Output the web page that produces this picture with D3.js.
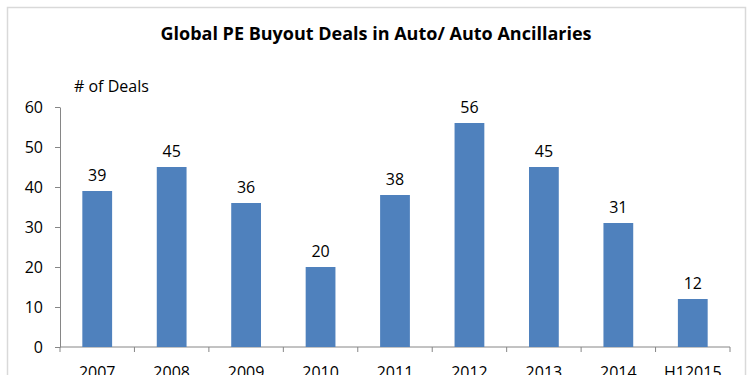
<!DOCTYPE html>
<html>
<head>
<meta charset="utf-8">
<script src="https://cdn.jsdelivr.net/npm/d3@7"></script>
<style>
  body { margin: 0; background: #fff; }
  text { font-family: "Open Sans", "Liberation Sans", sans-serif; fill: #000; }
</style>
</head>
<body>
<svg id="chart"></svg>
<script>
// data
const years = ['2007', '2008', '2009', '2010', '2011', '2012', '2013', '2014', 'H12015'];
const deals = [39, 45, 36, 20, 38, 56, 45, 31, 12];
const yTicks = [0, 10, 20, 30, 40, 50, 60];

function drawChart() {
    const width = 750;
    const height = 375;
    const left = 60, right = 730, top = 107, bottom = 347;

    const svg = d3.select('#chart')
        .attr('width', width)
        .attr('height', height);

    // chart frame
    svg.append('rect')
        .attr('x', 7.5).attr('y', 7.5)
        .attr('width', 738).attr('height', 400)
        .attr('fill', 'none')
        .attr('stroke', '#d9d9d9')
        .attr('stroke-width', 1.5);

    const x = d3.scaleBand()
        .domain(years)
        .range([left, right])
        .paddingInner(0.6)
        .paddingOuter(0.3);

    const y = d3.scaleLinear()
        .domain([0, 60])
        .range([bottom, top]);

    // y axis
    const yAxis = svg.append('g')
        .attr('transform', `translate(${left},0)`)
        .call(d3.axisLeft(y).tickValues(yTicks).tickSize(5).tickSizeOuter(0).tickPadding(12));
    yAxis.select('.domain').attr('stroke', '#868686');
    yAxis.selectAll('.tick line').attr('stroke', '#868686');
    yAxis.selectAll('.tick text')
        .style('font-size', '16px')
        .attr('fill', '#000');

    // x axis: ticks between categories
    const step = x.step();
    const xAxis = svg.append('g')
        .attr('transform', `translate(0,${bottom})`);
    xAxis.append('line')
        .attr('x1', left).attr('x2', right)
        .attr('stroke', '#868686');
    xAxis.selectAll('line.tk')
        .data(d3.range(years.length + 1))
        .enter().append('line')
        .attr('class', 'tk')
        .attr('x1', i => left + i * step)
        .attr('x2', i => left + i * step)
        .attr('y1', 0).attr('y2', 5)
        .attr('stroke', '#868686');
    xAxis.selectAll('text')
        .data(years)
        .enter().append('text')
        .attr('x', d => x(d) + x.bandwidth() / 2)
        .attr('y', 31)
        .attr('text-anchor', 'middle')
        .style('font-size', '16px')
        .text(d => d);

    // bars
    svg.append('g')
        .selectAll('rect')
        .data(deals)
        .enter().append('rect')
        .attr('x', (d, i) => x(years[i]))
        .attr('y', d => y(d))
        .attr('width', x.bandwidth())
        .attr('height', d => y(0) - y(d))
        .attr('fill', '#4f81bd');

    // value labels
    svg.append('g')
        .selectAll('text')
        .data(deals)
        .enter().append('text')
        .attr('x', (d, i) => x(years[i]) + x.bandwidth() / 2)
        .attr('y', d => y(d) - 10)
        .attr('text-anchor', 'middle')
        .style('font-size', '16px')
        .text(d => d);

    // title
    svg.append('text')
        .attr('x', 376)
        .attr('y', 40)
        .attr('text-anchor', 'middle')
        .style('font-size', '18px')
        .style('font-weight', 'bold')
        .text('Global PE Buyout Deals in Auto/ Auto Ancillaries');

    // y axis label
    svg.append('text')
        .attr('x', 74)
        .attr('y', 92)
        .style('font-size', '16px')
        .text('# of Deals');
}

drawChart();
</script>
</body>
</html>
